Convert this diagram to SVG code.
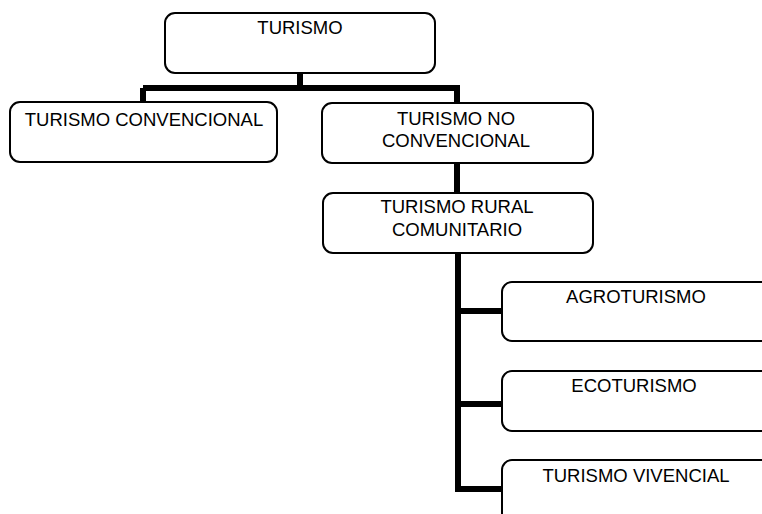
<svg xmlns="http://www.w3.org/2000/svg" width="762" height="514" viewBox="0 0 762 514">
<style>
.box{fill:#fff;stroke:#000;stroke-width:2}
.t{font-family:"Liberation Sans",Arial,sans-serif;font-size:18.5px;fill:#000;text-anchor:middle}
.c{fill:none;stroke:#000;stroke-width:6;stroke-linejoin:miter;stroke-linecap:butt}
</style>
<rect width="762" height="514" fill="#fff"/>
<g id="connectors">
<path class="c" d="M300,73 V88 M143,88 H460 M143,88 V102 M457,88 V103 M457,163 V193 M458,253 V489 H502 M458,311 H502 M458,404 H502"/>
</g>
<g id="n-turismo">
<rect class="box" x="165" y="13" width="270" height="60" rx="10"/>
<text class="t" x="300" y="34">TURISMO</text>
</g>
<g id="n-convencional">
<rect class="box" x="10" y="102" width="267" height="60" rx="10"/>
<text class="t" x="144" y="126">TURISMO CONVENCIONAL</text>
</g>
<g id="n-noconvencional">
<rect class="box" x="322" y="103" width="271" height="60" rx="10"/>
<text class="t" x="456" y="125">TURISMO NO</text>
<text class="t" x="456" y="147">CONVENCIONAL</text>
</g>
<g id="n-rural">
<rect class="box" x="323" y="193" width="270" height="60" rx="10"/>
<text class="t" x="457" y="213">TURISMO RURAL</text>
<text class="t" x="457" y="236">COMUNITARIO</text>
</g>
<g id="n-agro">
<rect class="box" x="502" y="282" width="280" height="59" rx="10"/>
<text class="t" x="636" y="303">AGROTURISMO</text>
</g>
<g id="n-eco">
<rect class="box" x="502" y="371" width="280" height="60" rx="10"/>
<text class="t" x="634" y="392">ECOTURISMO</text>
</g>
<g id="n-vivencial">
<rect class="box" x="502" y="460" width="280" height="70" rx="10"/>
<text class="t" x="636" y="482">TURISMO VIVENCIAL</text>
</g>
</svg>
